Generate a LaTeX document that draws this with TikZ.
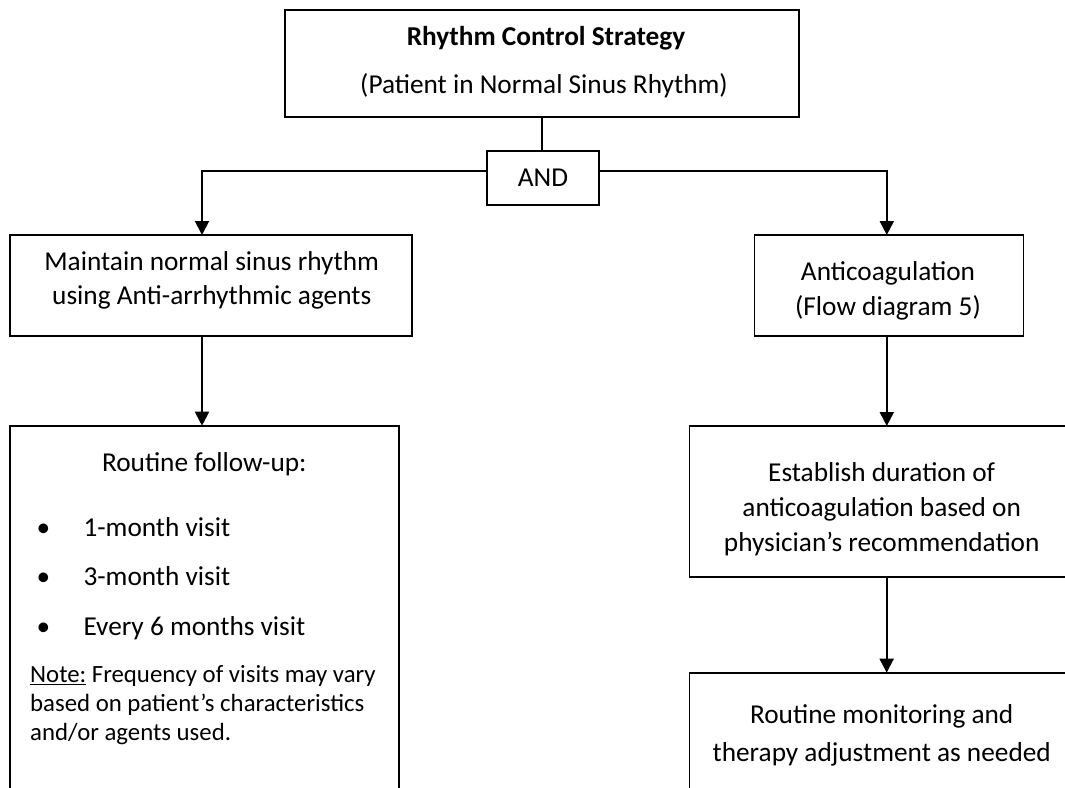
\documentclass[tikz,border=0pt]{standalone}
\usepackage{fontspec}
\setmainfont{Carlito}
\usetikzlibrary{arrows.meta}
\begin{document}
\begin{tikzpicture}[x=1pt,y=1pt,
  box/.style={draw=black, line width=1.6pt, inner sep=0pt, outer sep=0pt},
  txt/.style={anchor=base, inner sep=0pt, font=\fontsize{27.3}{32}\selectfont},
  notetxt/.style={anchor=base west, inner sep=0pt, font=\fontsize{24.8}{29}\selectfont},
  conn/.style={line width=2pt, -{Triangle[width=14pt,length=14pt]}},
  thin/.style={line width=1.2pt}]
\useasboundingbox (0,0) rectangle (1065,-787);
\clip (0,0) rectangle (1065,-787);
% boxes
\node[box, minimum width=514, minimum height=107] (top) at (542,-63.5) {};
\node[box, minimum width=112, minimum height=54] (and) at (543,-178) {};
\node[box, minimum width=401.7, minimum height=100.7] (m) at (210.85,-285.35) {};
\node[box, minimum width=269, minimum height=100.7] (a) at (888.8,-285.35) {};
\node[box, anchor=north, minimum width=389, minimum height=420] (r) at (204.5,-425.7) {};
\node[box, minimum width=384.7, minimum height=150.7] (e) at (881.65,-501.35) {};
\node[box, anchor=north, minimum width=384.7, minimum height=160] (mo) at (881.65,-672.7) {};
% texts
\node[txt, font=\fontsize{27.3}{32}\selectfont\bfseries] (t1) at (546,-45) {Rhythm Control Strategy};
\node[txt] (t2) at (544,-93) {(Patient in Normal Sinus Rhythm)};
\node[txt] (andt) at (543,-186.7) {AND};
\node[txt] (m1) at (211.7,-270) {Maintain normal sinus rhythm};
\node[txt] (m2) at (211.7,-304) {using Anti-arrhythmic agents};
\node[txt] (a1) at (888,-280) {Anticoagulation};
\node[txt] (a2) at (888,-315) {(Flow diagram 5)};
\node[txt] (r0) at (204.3,-471.7) {Routine follow-up:};
\node[txt] (b1) at (43.3,-536) {•};
\node[txt, anchor=base west] (r1) at (83.3,-536) {1-month visit};
\node[txt] (b2) at (43.3,-585) {•};
\node[txt, anchor=base west] (r2) at (83.3,-585) {3-month visit};
\node[txt] (b3) at (43.3,-635) {•};
\node[txt, anchor=base west] (r3) at (83.3,-635) {Every 6 months visit};
\node[notetxt] (n1) at (30,-682.7) {\underline{Note:} Frequency of visits may vary};
\node[notetxt] (n2) at (30,-711.7) {based on patient’s characteristics};
\node[notetxt] (n3) at (30,-740.7) {and/or agents used.};
\node[txt] (e1) at (881.7,-481.7) {Establish duration of};
\node[txt] (e2) at (881.7,-516.7) {anticoagulation based on};
\node[txt] (e3) at (881.7,-551.7) {physician’s recommendation};
\node[txt] (mo1) at (881.7,-723.3) {Routine monitoring and};
\node[txt] (mo2) at (881.7,-761.7) {therapy adjustment as needed};
% connectors
\draw[thin] (top.south) -- (top.south |- and.north);
\draw[conn] ([yshift=7.3pt]and.west) -| ([xshift=-8.85pt]m.north);
\draw[conn] ([yshift=7.3pt]and.east) -| ([xshift=-2pt]a.north);
\draw[conn] ([xshift=-8.85pt]m.south) -- ([xshift=-8.85pt]m.south |- r.north);
\draw[conn] ([xshift=-2pt]a.south) -- ([xshift=-2pt]a.south |- e.north);
\draw[conn] ([xshift=5pt]e.south) -- ([xshift=5pt]e.south |- mo.north);
\end{tikzpicture}
\end{document}
